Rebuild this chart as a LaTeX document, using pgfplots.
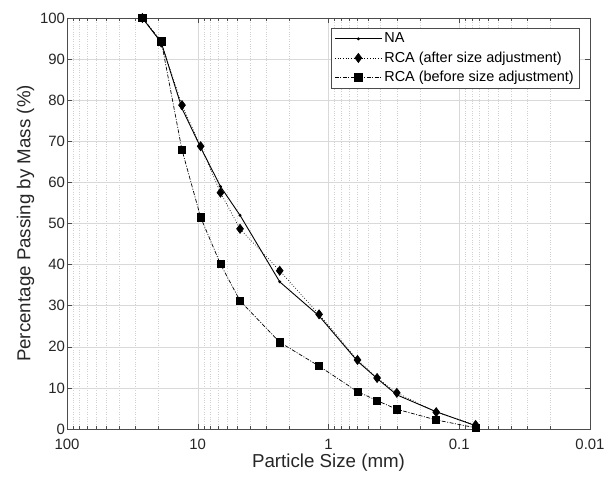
\documentclass[border=0pt]{standalone}
\usepackage{pgfplots}
\pgfplotsset{compat=1.18}
\usepackage{fontspec}
\setmainfont{Liberation Sans}
\begin{document}
\begin{tikzpicture}
\begin{axis}[
  scale only axis,
  width=523bp, height=411bp,
  xmode=log, x dir=reverse,
  xmin=0.01, xmax=100, ymin=0, ymax=100,
  xtick={0.01,0.1,1,10,100},
  xticklabels={0.01,0.1,1,10,100},
  ytick={0,10,...,100},
  /pgf/number format/assume math mode=true,
  tick label style={font=\fontsize{15}{17}\selectfont, text=black!85},
  xticklabel style={yshift=-6.5bp},
  yticklabel style={xshift=1.5bp},
  label style={font=\fontsize{18.8}{21}\selectfont, text=black!85},
  xlabel={Particle Size (mm)},
  ylabel={Percentage Passing by Mass (\%)},
  xlabel style={yshift=3bp},
  ylabel style={yshift=-1bp},
  tick align=inside,
  major tick length=5bp, minor tick length=3bp,
  axis line style={black!70, line width=0.5pt},
  every tick/.style={black!70},
  grid=both,
  major grid style={black!15, line width=0.4pt},
  minor grid style={black!18, dotted, line width=0.4pt},
  legend style={at={(rel axis cs:0.979,0.976)}, anchor=north east,
    font=\fontsize{14.5}{17}\selectfont, draw=black!70, fill=white,
    row sep=3.5bp, inner xsep=3bp, inner ysep=3bp, cells={anchor=west}},
  legend cell align=left,
  legend image code/.code={\draw[mark repeat=2,mark phase=2] plot coordinates {(0cm,0cm) (0.83cm,0cm) (1.66cm,0cm)};},
]
\addplot[black, line width=0.9pt, mark=*, mark size=1pt] coordinates {
(26.5,100) (19,94) (13.2,78) (9.5,68.5) (6.7,59) (4.75,52) (2.36,35.8) (1.18,27.5) (0.6,16.5) (0.425,12.3) (0.3,8.3) (0.15,4.2) (0.075,0.8)};
\addlegendentry{NA}
\addplot[black, line width=0.7pt, dotted, mark=diamond*, mark size=4.5bp, mark options={solid}] coordinates {
(26.5,100) (19,94) (13.2,78.8) (9.5,68.8) (6.7,57.5) (4.75,48.7) (2.36,38.5) (1.18,27.9) (0.6,16.8) (0.425,12.4) (0.3,8.8) (0.15,4.1) (0.075,1.0)};
\addlegendentry{RCA (after size adjustment)}
\addplot[black, line width=0.7pt, dash pattern=on 4pt off 1.5pt on 1pt off 1.5pt, mark=square*, mark size=3.6bp, mark options={solid}] coordinates {
(26.5,100) (19,94.3) (13.2,67.9) (9.5,51.5) (6.7,40.1) (4.75,31.2) (2.36,21.1) (1.18,15.3) (0.6,9.1) (0.425,6.9) (0.3,4.8) (0.15,2.2) (0.075,0.3)};
\addlegendentry{RCA (before size adjustment)}
\end{axis}
\pgfresetboundingbox
\useasboundingbox ([shift={(-67bp,-53bp)}]current axis.south west) rectangle ([shift={(15bp,18bp)}]current axis.north east);
\end{tikzpicture}
\end{document}
